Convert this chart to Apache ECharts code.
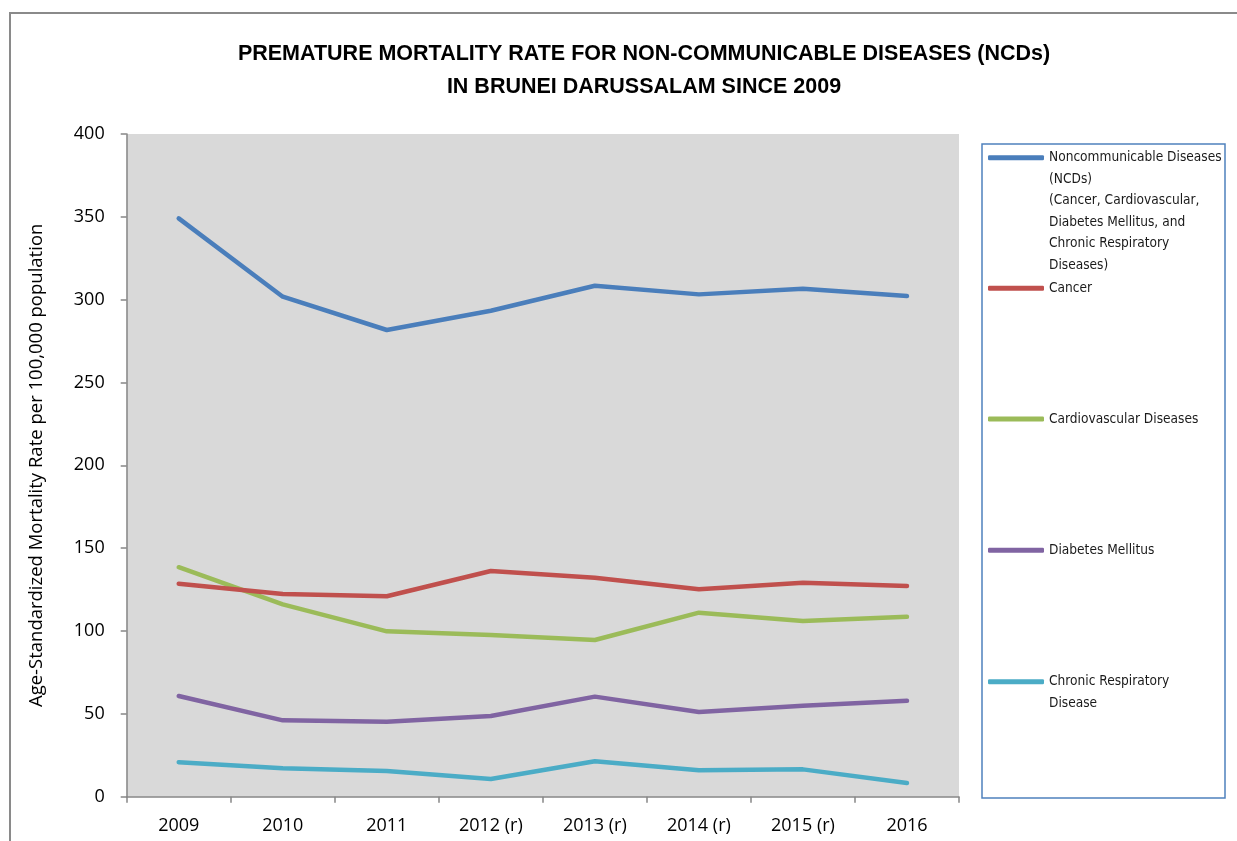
<!DOCTYPE html>
<html>
<head>
<meta charset="utf-8">
<title>Premature mortality rate for NCDs in Brunei Darussalam</title>
<script src="https://cdn.jsdelivr.net/npm/echarts@6/dist/echarts.min.js"></script>
<style>
  html, body { margin: 0; padding: 0; background: #ffffff; }
  #chart { width: 1237px; height: 841px; }
</style>
</head>
<body>
<div id="chart"></div>
<script>
// Years on the category axis
const years = ['2009', '2010', '2011', '2012 (r)', '2013 (r)', '2014 (r)', '2015 (r)', '2016'];

// Age-standardized mortality rate per 100,000 population
const ncdTotal       = [349.1, 301.8, 281.7, 293.3, 308.4, 303.2, 306.6, 302.2];
const cancer         = [128.6, 122.3, 121.0, 136.2, 132.2, 125.2, 129.2, 127.2];
const cardiovascular = [138.5, 116.1, 99.8, 97.6, 94.6, 111.1, 106.1, 108.6];
const diabetes       = [60.8, 46.1, 45.3, 48.7, 60.4, 51.1, 54.9, 57.9];
const respiratory    = [20.8, 17.1, 15.5, 10.7, 21.4, 15.9, 16.5, 8.3];

// Y axis ticks
const yTicks = { min: 0, max: 400, interval: 50 };

// Series names and their legend text (multi-line where the label wraps)
const seriesNames = [
  'Noncommunicable Diseases (NCDs)',
  'Cancer',
  'Cardiovascular Diseases',
  'Diabetes Mellitus',
  'Chronic Respiratory Disease'
];
const legendText = [
  'Noncommunicable Diseases\n(NCDs)\n(Cancer, Cardiovascular,\nDiabetes Mellitus, and\nChronic Respiratory\nDiseases)',
  'Cancer',
  'Cardiovascular Diseases',
  'Diabetes Mellitus',
  'Chronic Respiratory\nDisease'
];
const seriesData = [ncdTotal, cancer, cardiovascular, diabetes, respiratory];
const colors = ['#4A7EBB', '#C0504D', '#9BBB59', '#8064A2', '#4BACC6'];

const chart = echarts.init(document.getElementById('chart'), null, { renderer: 'canvas' });

const LEGEND_LINE = 21.5;
const legendFont = "'DejaVu Sans Condensed', 'Liberation Sans', sans-serif";
// Symbol centre heights for each legend entry
const legendCentres = [157.7, 288.3, 419, 550.3, 681.7];

// Legend text is centred on its symbol, so wrapped labels get blank lines
// in front to keep the first line level with the line symbol.
const legends = seriesNames.map((name, i) => {
  const lines = legendText[i].split('\n');
  const blank = lines.length - 1;
  const text = '\n'.repeat(blank) + legendText[i];
  const half = (lines.length + blank) * LEGEND_LINE / 2;
  return {
    data: [name],
    orient: 'vertical',
    left: 988,
    top: legendCentres[i] - half,
    padding: 0,
    itemWidth: 56,
    itemHeight: 5,
    icon: 'roundRect',
    selectedMode: false,
    formatter: () => text,
    textStyle: {
      fontFamily: legendFont,
      fontSize: 13.6,
      color: '#1a1a1a',
      lineHeight: LEGEND_LINE
    }
  };
});

const axisFont = "'Open Sans', 'Liberation Sans', sans-serif";

const option = {
  backgroundColor: '#ffffff',
  animation: false,
  title: {
    text: 'PREMATURE MORTALITY RATE FOR NON-COMMUNICABLE DISEASES (NCDs)\nIN BRUNEI DARUSSALAM SINCE 2009',
    left: 639,
    top: 32.5,
    textAlign: 'center',
    textStyle: {
      fontFamily: "'Liberation Sans', sans-serif",
      fontWeight: 'bold',
      fontSize: 21.5,
      lineHeight: 33,
      color: '#000000'
    }
  },
  legend: legends,
  grid: {
    left: 126.7,
    right: 278,
    top: 134,
    bottom: 44.3,
    show: true,
    backgroundColor: '#D9D9D9',
    borderWidth: 0
  },
  xAxis: {
    type: 'category',
    data: years,
    boundaryGap: true,
    axisLine: { lineStyle: { color: '#868686', width: 1.5 } },
    axisTick: { show: true, length: 6, lineStyle: { color: '#868686', width: 1.5 } },
    axisLabel: {
      margin: 20,
      fontFamily: axisFont,
      fontSize: 18,
      color: '#000000'
    },
    splitLine: { show: false }
  },
  yAxis: {
    type: 'value',
    min: yTicks.min,
    max: yTicks.max,
    interval: yTicks.interval,
    name: 'Age-Standardized Mortality Rate per 100,000 population',
    nameLocation: 'middle',
    nameGap: 80,
    nameTextStyle: {
      fontFamily: axisFont,
      fontSize: 18.5,
      color: '#000000'
    },
    axisLine: { show: true, lineStyle: { color: '#868686', width: 1.5 } },
    axisTick: { show: true, length: 6, lineStyle: { color: '#868686', width: 1.5 } },
    axisLabel: {
      margin: 22,
      fontFamily: axisFont,
      fontSize: 18,
      color: '#000000'
    },
    splitLine: { show: false }
  },
  series: seriesNames.map((name, i) => ({
    name: name,
    type: 'line',
    data: seriesData[i],
    symbol: 'none',
    smooth: false,
    color: colors[i],
    lineStyle: { width: 4.5, color: colors[i], cap: 'round', join: 'round' },
    z: 10 - i
  })),
  graphic: [
    // outer chart frame
    {
      type: 'rect',
      shape: { x: 10, y: 13, width: 1240, height: 840 },
      style: { fill: 'none', stroke: '#8a8a8a', lineWidth: 2 },
      silent: true,
      z: -1
    },
    // legend box
    {
      type: 'rect',
      shape: { x: 982, y: 144, width: 243, height: 654 },
      style: { fill: 'none', stroke: '#4F81BD', lineWidth: 1.5 },
      silent: true
    }
  ]
};

chart.setOption(option);
</script>
</body>
</html>
